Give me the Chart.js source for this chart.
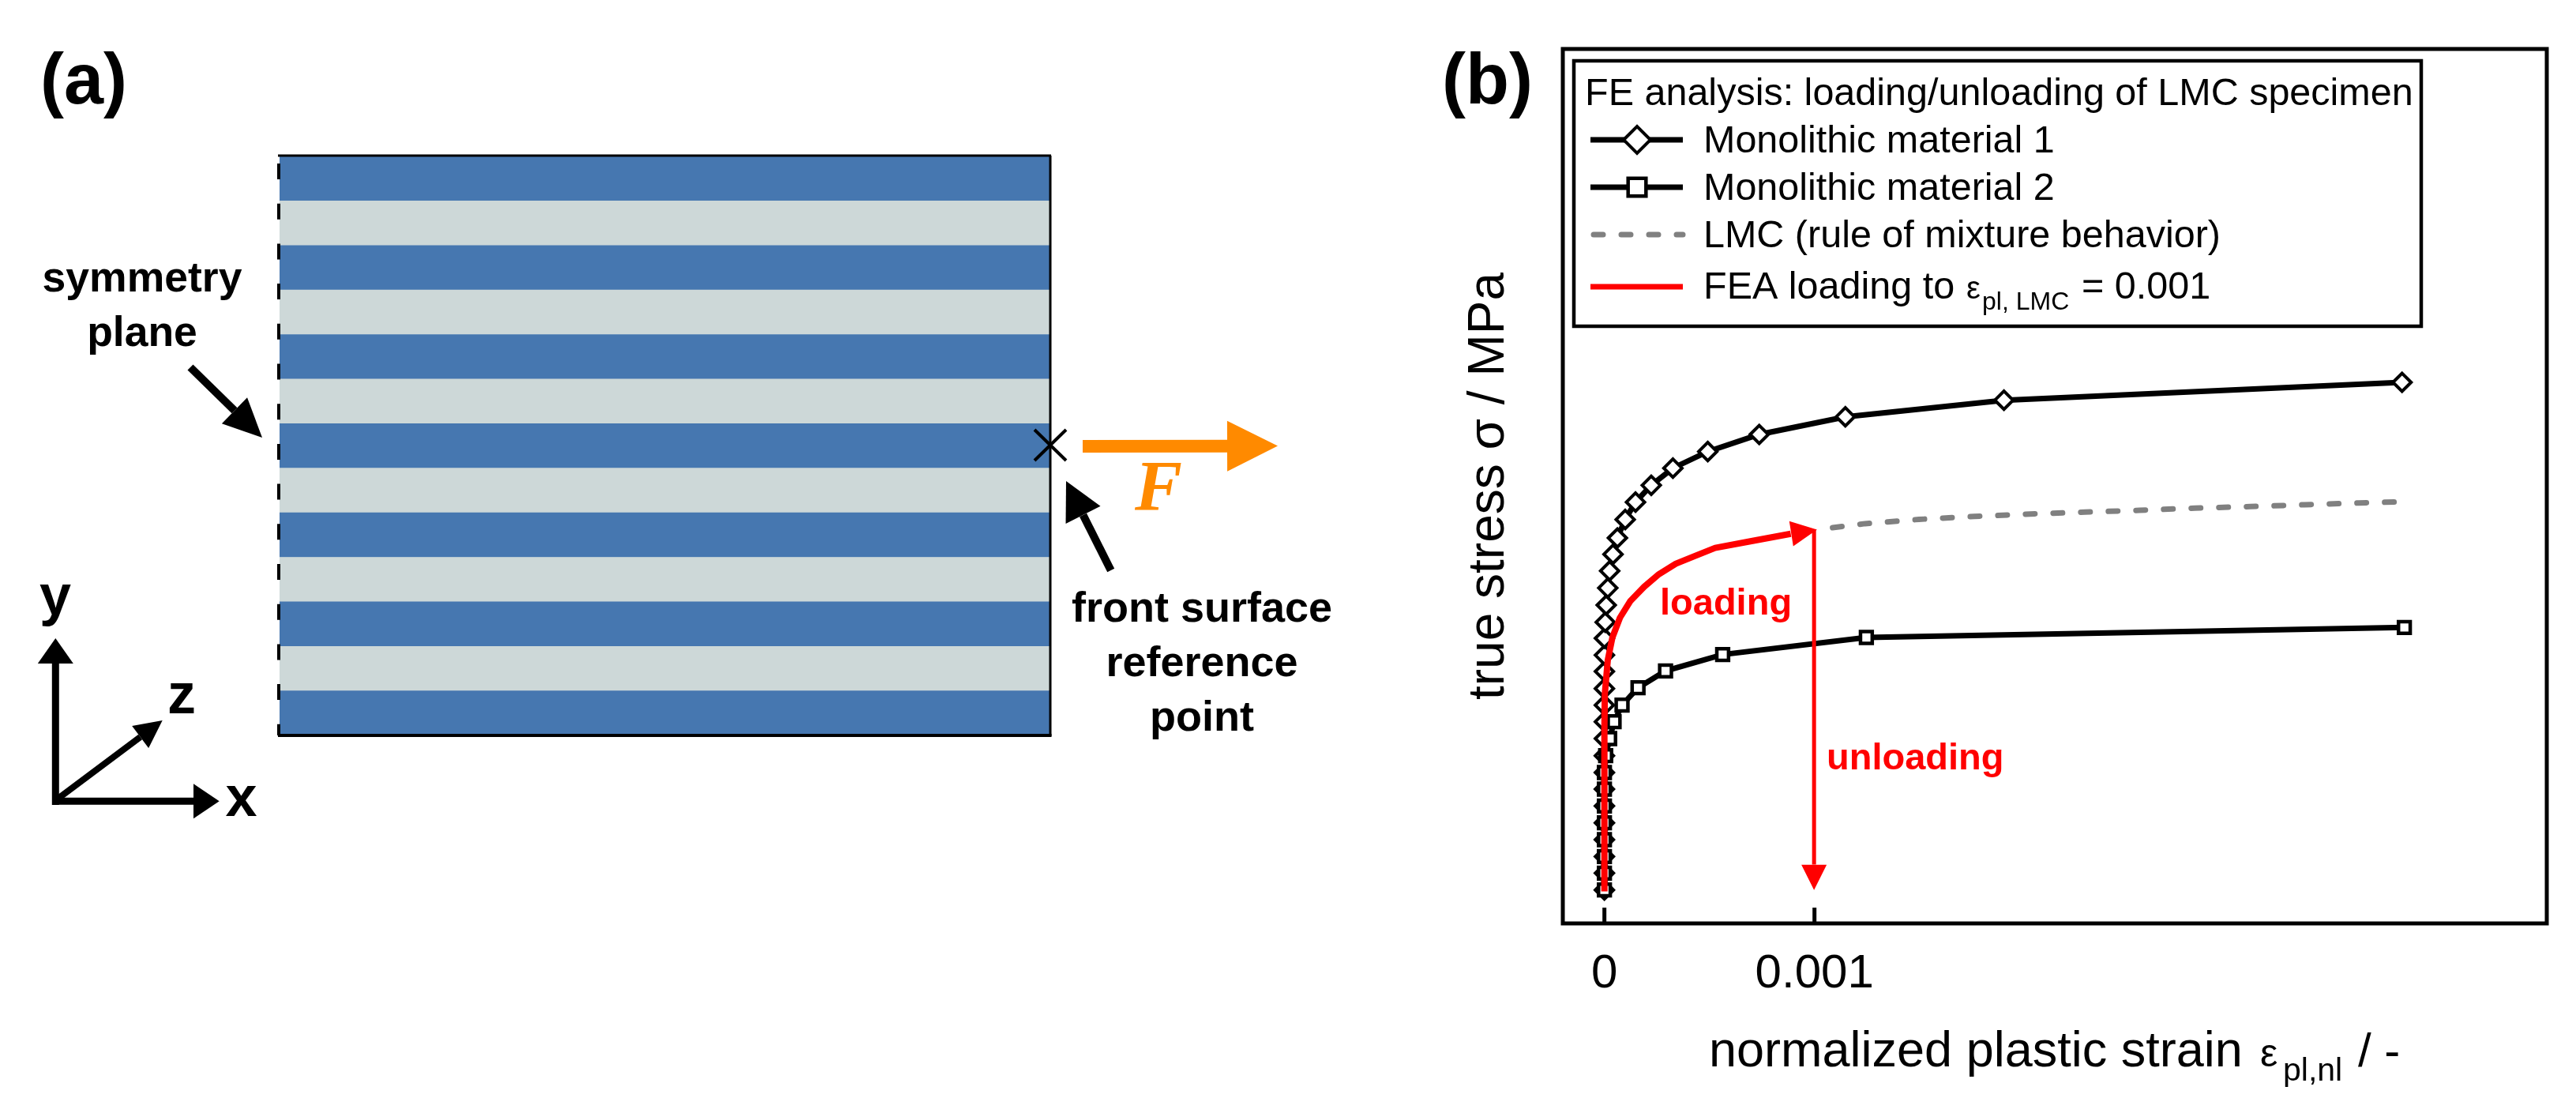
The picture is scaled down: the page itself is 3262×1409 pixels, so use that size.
<!DOCTYPE html>
<html>
<head>
<meta charset="utf-8">
<title>LMC specimen</title>
<script src="https://cdn.jsdelivr.net/npm/chart.js@4/dist/chart.umd.min.js"></script>
<style>
  html, body { margin: 0; background: #fff; overflow: hidden; }
  canvas { position: absolute; top: 0; }
  #panelA { left: 0; }
  #panelB { left: 1800px; }
</style>
</head>
<body>
<canvas id="panelA" width="1800" height="1409"></canvas>
<canvas id="panelB" width="1462" height="1409"></canvas>
<script>
// Panel (a): layers of the specimen
const layerNames = ['1','2','3','4','5','6','7','8','9','10','11','12','13'];
const layerThickness = [1,1,1,1,1,1,1,1,1,1,1,1,1];
const layerColors = ['#4677b0','#cdd8d8','#4677b0','#cdd8d8','#4677b0','#cdd8d8','#4677b0','#cdd8d8','#4677b0','#cdd8d8','#4677b0','#cdd8d8','#4677b0'];

// Panel (b): curves, x = plastic strain, y = stress (no scale in the original, read from the bottom of the frame)
const xTickValues = [0, 0.001];
const xTickLabels = ['0', '0.001'];

const mat1X = [0,0,0,0,0,0,0,0,0,0,0,0,0,0,0,0,0.000004,0.0000086,0.000016,0.000025,0.000041,0.000062,0.000099,0.000148,0.000223,0.000326,0.000492,0.000737,0.001147,0.001902,0.003797];
const mat1Y = [42.3,63.7,84.7,106,127.3,148.7,170,191,212.3,234,255.3,276.3,297.3,319,339.7,361,381.3,403,424.7,446.3,467.3,488,511.3,533.3,554.7,576.3,597.3,619,641.3,662.3,685];

const mat2X = [0,0,0,0,0,0,0,0,0.000006,0.000025,0.000046,0.000084,0.00016,0.000291,0.000563,0.001247,0.003808];
const mat2Y = [42.3,63.7,84.7,106,127.3,148.7,170,191,212.3,234,255.3,276.3,298.3,319.7,340.4,362,374.7];

const lmcX = [0.001086,0.00124,0.001497,0.00176,0.002026,0.002287,0.002546,0.00281,0.003073,0.003332,0.003591,0.00376];
const lmcY = [501,506.1,511.5,515.2,518.3,520.7,523,525.7,527.7,530,532.3,533.5];

const feaX = [0,0,0.000002,0.000016,0.000038,0.000074,0.000124,0.000189,0.00026,0.00034,0.000433,0.000527,0.0007,0.000887];
const feaY = [40.4,248,290.4,333.3,362,387,408.3,426.1,442.2,455.4,465.4,475.4,484,493.3];
const feaTip = [0.001012, 498.6];

const unloadX = [0.000998,0.000998];
const unloadY = [499,74.4];
const unloadTip = [0.000998, 42.2];

const SANS = '"Liberation Sans", Arial, sans-serif';

function zip(xs, ys) {
  return xs.map((x, i) => ({ x: x, y: ys[i] }));
}

function text(ctx, str, x, y, font, color, align) {
  ctx.font = font;
  ctx.fillStyle = color || '#000';
  ctx.textAlign = align || 'left';
  ctx.textBaseline = 'alphabetic';
  ctx.fillText(str, x, y);
}

function arrow(ctx, x0, y0, x1, y1, headLen, headHalf, lw, color) {
  const a = Math.atan2(y1 - y0, x1 - x0);
  const bx = x1 - Math.cos(a) * headLen, by = y1 - Math.sin(a) * headLen;
  ctx.strokeStyle = color;
  ctx.fillStyle = color;
  ctx.lineWidth = lw;
  ctx.setLineDash([]);
  ctx.beginPath();
  ctx.moveTo(x0, y0);
  ctx.lineTo(bx, by);
  ctx.stroke();
  head(ctx, x1, y1, a, headLen, headHalf, color);
}

function head(ctx, x1, y1, a, headLen, headHalf, color) {
  const bx = x1 - Math.cos(a) * headLen, by = y1 - Math.sin(a) * headLen;
  ctx.fillStyle = color;
  ctx.beginPath();
  ctx.moveTo(x1, y1);
  ctx.lineTo(bx - Math.sin(a) * headHalf, by + Math.cos(a) * headHalf);
  ctx.lineTo(bx + Math.sin(a) * headHalf, by - Math.cos(a) * headHalf);
  ctx.closePath();
  ctx.fill();
}

function line(ctx, x0, y0, x1, y1, lw, color, dash) {
  ctx.strokeStyle = color;
  ctx.lineWidth = lw;
  ctx.setLineDash(dash || []);
  ctx.beginPath();
  ctx.moveTo(x0, y0);
  ctx.lineTo(x1, y1);
  ctx.stroke();
  ctx.setLineDash([]);
}

// the top of the panel letters is cut off in the original
function panelLetter(ctx, str, x) {
  ctx.save();
  ctx.beginPath();
  ctx.rect(0, 60, ctx.canvas.width, 200);
  ctx.clip();
  text(ctx, str, x, 131, 'bold 90px ' + SANS);
  ctx.restore();
}

const schematicPlugin = {
  id: 'schematic',
  afterDraw(chart) {
    const ctx = chart.ctx;
    const { left, right, top, bottom } = chart.chartArea;
    ctx.save();
    // outline, left side is the dashed symmetry plane
    line(ctx, left - 2, top - 1, right + 1, top - 1, 3, '#000');
    line(ctx, right, top - 1, right, bottom + 1, 3, '#000');
    line(ctx, left - 2, bottom, right + 1.5, bottom, 4, '#000');
    line(ctx, left - 1, 207, left - 1, bottom, 4, '#000', [20, 30.7]);

    panelLetter(ctx, '(a)', 51);

    text(ctx, 'symmetry', 180, 369, 'bold 53.5px ' + SANS, '#000', 'center');
    text(ctx, 'plane', 180, 438, 'bold 53.5px ' + SANS, '#000', 'center');
    arrow(ctx, 241, 465, 332, 554, 49, 23, 10, '#000');

    // reference point and force
    line(ctx, 1310, 544, 1350, 583, 4, '#000');
    line(ctx, 1350, 544, 1310, 583, 4, '#000');
    arrow(ctx, 1371, 565, 1618, 564.5, 64, 32, 16, '#ff8a00');
    text(ctx, 'F', 1437, 646, 'italic bold 90px "Liberation Serif", serif', '#ff8a00');

    arrow(ctx, 1406.7, 722, 1350, 609, 48, 24.6, 10, '#000');
    text(ctx, 'front surface', 1522, 786.6, 'bold 54px ' + SANS, '#000', 'center');
    text(ctx, 'reference', 1522, 856, 'bold 54px ' + SANS, '#000', 'center');
    text(ctx, 'point', 1522, 925, 'bold 54px ' + SANS, '#000', 'center');

    // coordinate system
    arrow(ctx, 70.3, 1019, 70.3, 808, 32, 22.5, 9, '#000');
    arrow(ctx, 66, 1014.3, 277.7, 1014.3, 32.7, 22, 9, '#000');
    arrow(ctx, 72, 1012, 205.7, 912, 35, 17.5, 8, '#000');
    text(ctx, 'y', 70, 778, 'bold 72px ' + SANS, '#000', 'center');
    text(ctx, 'z', 230, 903, 'bold 72px ' + SANS, '#000', 'center');
    text(ctx, 'x', 305.5, 1033, 'bold 72px ' + SANS, '#000', 'center');
    ctx.restore();
  }
};

new Chart(document.getElementById('panelA'), {
  type: 'bar',
  data: {
    labels: ['specimen'],
    datasets: layerNames.map((name, i) => ({
      label: name,
      data: [layerThickness[i]],
      backgroundColor: layerColors[i],
      barPercentage: 1,
      categoryPercentage: 1,
      borderWidth: 0
    }))
  },
  options: {
    responsive: false,
    animation: false,
    layout: { padding: { left: 354, right: 470, top: 198, bottom: 478 } },
    plugins: { legend: { display: false }, tooltip: { enabled: false } },
    scales: {
      x: { stacked: true, display: false },
      y: { stacked: true, display: false, min: 0, max: 13 }
    }
  },
  plugins: [schematicPlugin]
});

// canvas of panel (b) starts at x = 1800 of the page
const OX = 1800;

const annotationPlugin = {
  id: 'annotations',
  afterDatasetsDraw(chart) {
    const ctx = chart.ctx;
    const sx = chart.scales.x, sy = chart.scales.y;
    const { left, right, top, bottom } = chart.chartArea;
    ctx.save();

    // frame and inward ticks
    ctx.strokeStyle = '#000';
    ctx.lineWidth = 5;
    ctx.strokeRect(left, top, right - left, bottom - top);
    xTickValues.forEach(v => {
      const px = sx.getPixelForValue(v);
      line(ctx, px, bottom - 20, px, bottom, 5, '#000');
    });

    // arrow heads on the red curves
    const n = feaX.length - 1;
    const fx = sx.getPixelForValue(feaTip[0]), fy = sy.getPixelForValue(feaTip[1]);
    const a = Math.atan2(fy - sy.getPixelForValue(feaY[n]), fx - sx.getPixelForValue(feaX[n]));
    head(ctx, fx, fy, a, 33, 16, '#f00');
    head(ctx, sx.getPixelForValue(unloadTip[0]), sy.getPixelForValue(unloadTip[1]), Math.PI / 2, 32, 16, '#f00');

    text(ctx, 'loading', 2102 - OX, 778, 'bold 47px ' + SANS, '#f00');
    text(ctx, 'unloading', 2313 - OX, 974, 'bold 47px ' + SANS, '#f00');

    panelLetter(ctx, '(b)', 1826 - OX);

    // legend box
    ctx.fillStyle = '#fff';
    ctx.fillRect(1993 - OX, 77, 3066 - 1993, 336);
    ctx.lineWidth = 4.5;
    ctx.strokeStyle = '#000';
    ctx.strokeRect(1993 - OX, 77, 3066 - 1993, 336);

    const lf = '48.5px ' + SANS;
    const tx = 2157 - OX, x0 = 2014 - OX, x1 = 2131 - OX, xm = 2073 - OX;
    text(ctx, 'FE analysis: loading/unloading of LMC specimen', 2007 - OX, 132.7, lf);

    line(ctx, x0, 177, x1, 177, 7, '#000');
    ctx.fillStyle = '#fff';
    ctx.strokeStyle = '#000';
    ctx.lineWidth = 4;
    Chart.helpers.drawPoint(ctx, { pointStyle: 'rectRot', radius: 17, borderWidth: 4, rotation: 0 }, xm, 177);
    text(ctx, 'Monolithic material 1', tx, 193, lf);

    line(ctx, x0, 237, x1, 237, 7, '#000');
    ctx.fillStyle = '#fff';
    ctx.strokeStyle = '#000';
    ctx.lineWidth = 4.5;
    Chart.helpers.drawPoint(ctx, { pointStyle: 'rect', radius: 16, borderWidth: 4.5, rotation: 0 }, xm, 237);
    text(ctx, 'Monolithic material 2', tx, 253, lf);

    ctx.lineCap = 'round';
    line(ctx, x0 + 4, 297, x1, 297, 7, '#808080', [12, 23]);
    ctx.lineCap = 'butt';
    text(ctx, 'LMC (rule of mixture behavior)', tx, 313, lf);

    line(ctx, x0, 363, x1, 363, 7, '#f00');
    text(ctx, 'FEA loading to', tx, 378, lf);
    text(ctx, 'ε', 2490 - OX, 378, '40px ' + SANS);
    text(ctx, 'pl, LMC', 2510 - OX, 391.7, '32px ' + SANS);
    text(ctx, '= 0.001', 2636 - OX, 378, lf);

    // x axis title, has a subscript so it is put together by hand
    text(ctx, 'normalized plastic strain', 2164 - OX, 1350, '63px ' + SANS);
    text(ctx, 'ε', 2862 - OX, 1350, '50px ' + SANS);
    text(ctx, 'pl,nl', 2891 - OX, 1368, '41px ' + SANS);
    text(ctx, '/ -', 2986 - OX, 1350, '60px ' + SANS);

    ctx.restore();
  }
};

new Chart(document.getElementById('panelB'), {
  type: 'line',
  data: {
    datasets: [
      {
        label: 'Monolithic material 1',
        data: zip(mat1X, mat1Y),
        order: 4,
        borderColor: '#000',
        borderWidth: 7,
        tension: 0,
        pointStyle: 'rectRot',
        pointRadius: 11.5,
        pointBorderWidth: 4,
        pointBorderColor: '#000',
        pointBackgroundColor: '#fff'
      },
      {
        label: 'Monolithic material 2',
        data: zip(mat2X, mat2Y),
        order: 3,
        borderColor: '#000',
        borderWidth: 7,
        tension: 0,
        pointStyle: 'rect',
        pointRadius: 10.5,
        pointBorderWidth: 4.5,
        pointBorderColor: '#000',
        pointBackgroundColor: '#fff'
      },
      {
        label: 'LMC (rule of mixture behavior)',
        data: zip(lmcX, lmcY),
        order: 2,
        borderColor: '#808080',
        borderWidth: 7,
        borderDash: [12, 23],
        borderCapStyle: 'round',
        tension: 0,
        pointRadius: 0
      },
      {
        label: 'unloading',
        data: zip(unloadX, unloadY),
        order: 1,
        borderColor: '#f00',
        borderWidth: 5,
        tension: 0,
        pointRadius: 0
      },
      {
        label: 'FEA loading',
        data: zip(feaX, feaY),
        order: 0,
        borderColor: '#f00',
        borderWidth: 8,
        borderJoinStyle: 'round',
        tension: 0,
        pointRadius: 0
      }
    ]
  },
  options: {
    responsive: false,
    animation: false,
    parsing: false,
    layout: { padding: { left: 0, right: 37, top: 62, bottom: 0 } },
    plugins: { legend: { display: false }, tooltip: { enabled: false } },
    scales: {
      x: {
        type: 'linear',
        min: -0.000198,
        max: 0.004486,
        grid: { display: false },
        border: { display: false },
        afterBuildTicks: s => { s.ticks = xTickValues.map(v => ({ value: v })); },
        afterFit: s => { s.height = 240; },
        ticks: {
          autoSkip: false,
          maxRotation: 0,
          padding: 20,
          color: '#000',
          font: { family: 'Liberation Sans', size: 60 },
          callback: v => xTickLabels[xTickValues.indexOf(v)]
        }
      },
      y: {
        type: 'linear',
        min: 0,
        max: 1107,
        grid: { display: false },
        border: { display: false },
        ticks: { display: false },
        afterFit: s => { s.width = 179; },
        title: {
          display: true,
          text: 'true stress σ / MPa',
          color: '#000',
          padding: { top: 48, bottom: 0 },
          font: { family: 'Liberation Sans', size: 64, weight: 'normal' }
        }
      }
    }
  },
  plugins: [annotationPlugin]
});
</script>
</body>
</html>
